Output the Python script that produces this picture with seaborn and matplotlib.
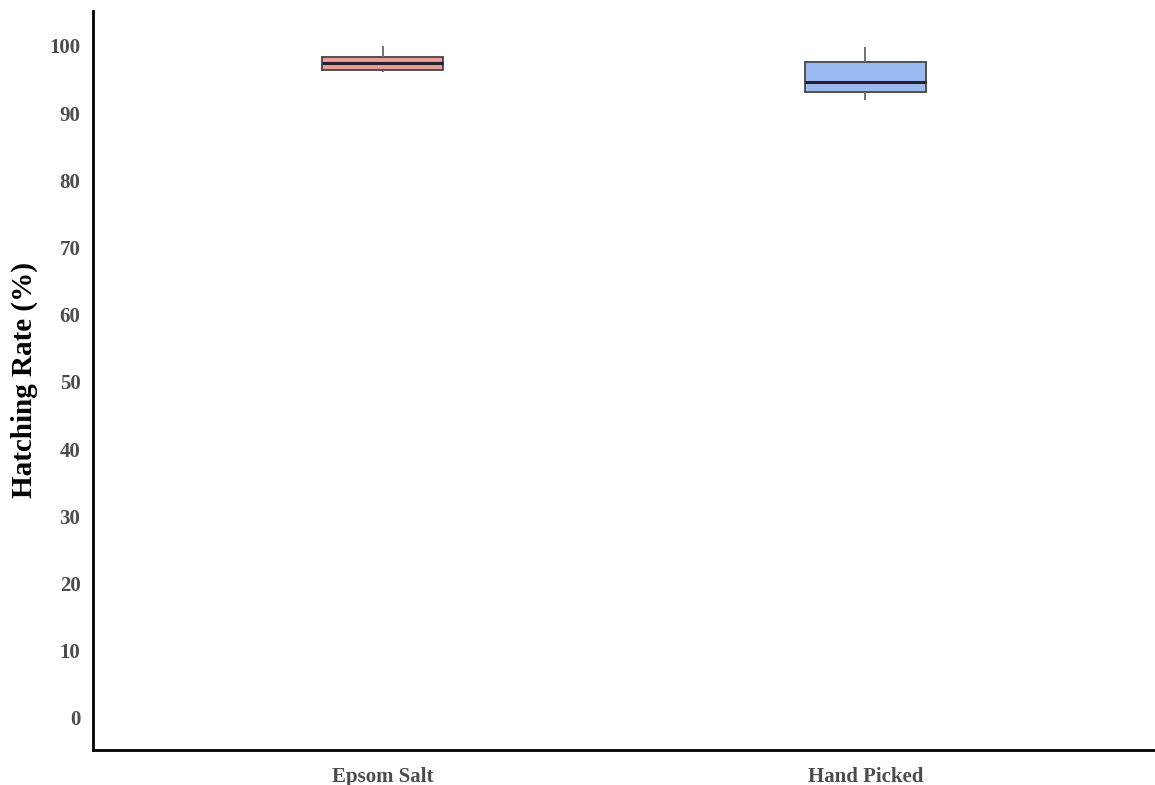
import matplotlib
matplotlib.use('Agg')
import pandas as pd
import matplotlib.pyplot as plt
import seaborn as sns

# values (5 points per group -> min, Q1, median, Q3, max)
groups = ["Epsom Salt", "Hand Picked"]
epsom_rates = [96.1, 96.4, 97.5, 98.3, 100.0]
hand_rates = [91.9, 93.1, 94.7, 97.6, 99.9]
yticks = [0, 10, 20, 30, 40, 50, 60, 70, 80, 90, 100]
colors = {"Epsom Salt": "#F8918C", "Hand Picked": "#8CB8FF"}

df = pd.DataFrame({
    "group": [groups[0]] * len(epsom_rates) + [groups[1]] * len(hand_rates),
    "rate": epsom_rates + hand_rates,
})

fig = plt.figure(figsize=(11.55, 7.85), dpi=100)
ax = fig.add_axes([93 / 1155, 1 - 750 / 785, 1 - 93 / 1155, (750 - 11) / 785])

sns.boxplot(data=df, x="group", y="rate", hue="group", palette=colors, order=groups,
            width=0.25, linewidth=1.3, linecolor="#444444", whis=1.5, showcaps=False,
            whiskerprops={"color": "#666666"},
            medianprops={"linewidth": 2.2, "color": "#222233"},
            legend=False, ax=ax)

ax.set_xlim(-0.6, 1.6)
ax.set_ylim(-4.8, 105.2)
ax.set_yticks(yticks)
ax.set_yticklabels([str(t) for t in yticks])
ax.tick_params(axis="y", length=0, pad=9)
ax.tick_params(axis="x", length=0, pad=12)
for lab in ax.get_xticklabels() + ax.get_yticklabels():
    lab.set_family("Liberation Serif")
    lab.set_fontweight("bold")
    lab.set_fontsize(15)
    lab.set_color("#4d4d4d")
ax.set_xlabel("")
ax.set_ylabel("Hatching Rate (%)", family="Liberation Serif", fontweight="bold",
              fontsize=21, color="black", labelpad=8)
for side in ["top", "right"]:
    ax.spines[side].set_visible(False)
for side in ["left", "bottom"]:
    ax.spines[side].set_linewidth(2)
    ax.spines[side].set_color("black")

fig.savefig("out.png", dpi=100)
